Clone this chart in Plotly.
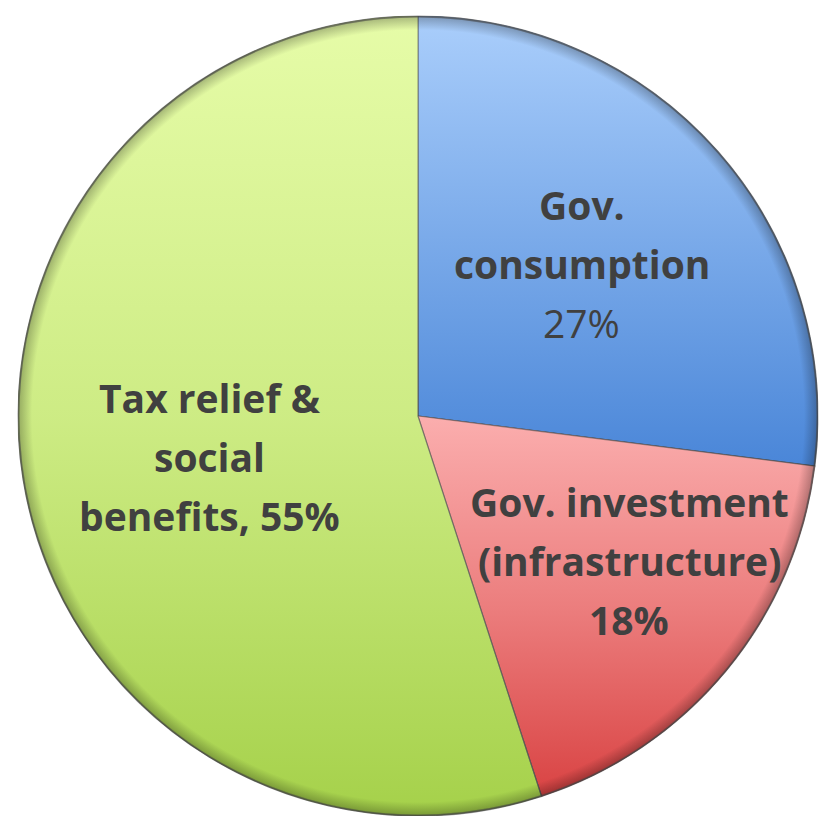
import base64
import math
import plotly.graph_objects as go

# ---- data ----
categories = ["Gov. consumption", "Gov. investment (infrastructure)", "Tax relief & social benefits"]
values = [27, 18, 55]
# label lines: (text, bold)
label_lines = [
    [("Gov.", True), ("consumption", True), ("27%", False)],
    [("Gov. investment", True), ("(infrastructure)", True), ("18%", True)],
    [("Tax relief &", True), ("social", True), ("benefits, 55%", True)],
]
base_colors = ["#4a86d8", "#d94343", "#a5d14a"]   # bottom (saturated) tone of each slice
top_colors = ["#aacefb", "#fbaeae", "#e6fca8"]    # top (light) tone of each slice
mid_opacity = [0.5, 0.55, 0.62]                   # sheen strength half-way down each slice

# ---- style / layout ----
W, H = 819, 816
R = 400
CX, CY = 418, 416  # pie centre, px from top-left
dom_x = [(CX - R) / W, (CX + R) / W]
dom_y = [(H - CY - R) / H, (H - CY + R) / H]
label_radius = [0.56, 0.64, 0.53]      # fraction of radius
label_angle_offset = [1.6, 5.3, 1.9]   # degrees
line_gap = 59                          # px between baselines
font_size = 39
text_color = "#404040"

fig = go.Figure(go.Pie(
    labels=categories,
    values=values,
    textinfo="none",
    sort=False,
    direction="clockwise",
    rotation=0,
    marker=dict(colors=base_colors, line=dict(color="rgba(80,80,80,0.55)", width=1)),
    domain=dict(x=dom_x, y=dom_y),
    showlegend=False,
    hoverinfo="label+percent",
))

# ---- per-slice gradient sheen (wedges derived from the values) ----
total = float(sum(values))
S = 2 * R
defs, paths = [], []
cum = 0.0
mids = []
for i, v in enumerate(values):
    a0 = 90 - 360 * cum / total
    a1 = 90 - 360 * (cum + v) / total
    mids.append(90 - 360 * (cum + v / 2) / total)
    cum += v
    x0 = R + R * math.cos(math.radians(a0)); y0 = R - R * math.sin(math.radians(a0))
    x1 = R + R * math.cos(math.radians(a1)); y1 = R - R * math.sin(math.radians(a1))
    large = 1 if (a0 - a1) > 180 else 0
    defs.append(
        f'<linearGradient id="g{i}" x1="0" y1="0" x2="0" y2="1">'
        f'<stop offset="0" stop-color="{top_colors[i]}" stop-opacity="1"/>'
        f'<stop offset="0.5" stop-color="{top_colors[i]}" stop-opacity="{mid_opacity[i]}"/>'
        f'<stop offset="1" stop-color="{top_colors[i]}" stop-opacity="0"/>'
        f'</linearGradient>'
    )
    paths.append(
        f'<path d="M{R},{R} L{x0:.2f},{y0:.2f} A{R},{R} 0 {large} 1 {x1:.2f},{y1:.2f} Z" '
        f'fill="url(#g{i})" stroke="rgba(80,80,80,0.5)" stroke-width="1.2"/>'
    )

svg = (
    f'<svg xmlns="http://www.w3.org/2000/svg" viewBox="0 0 {S} {S}" width="{S}" height="{S}">'
    '<defs>' + ''.join(defs) +
    '<radialGradient id="rim" cx="0.5" cy="0.5" r="0.5">'
    '<stop offset="0.965" stop-color="#000000" stop-opacity="0"/>'
    '<stop offset="1" stop-color="#000000" stop-opacity="0.28"/>'
    '</radialGradient>'
    '</defs>' + ''.join(paths) +
    f'<circle cx="{R}" cy="{R}" r="{R}" fill="url(#rim)"/>'
    f'<circle cx="{R}" cy="{R}" r="{R - 0.8}" fill="none" stroke="rgba(70,70,70,0.6)" stroke-width="1.4"/>'
    '</svg>'
)
src = "data:image/svg+xml;base64," + base64.b64encode(svg.encode()).decode()

fig.add_layout_image(dict(
    source=src, xref="paper", yref="paper",
    x=dom_x[0], y=dom_y[1], sizex=dom_x[1] - dom_x[0], sizey=dom_y[1] - dom_y[0],
    xanchor="left", yanchor="top", sizing="stretch", layer="above",
))

# ---- labels ----
for i, lines in enumerate(label_lines):
    ang = math.radians(mids[i] + label_angle_offset[i])
    px = CX + label_radius[i] * R * math.cos(ang)
    py = CY - label_radius[i] * R * math.sin(ang)
    n = len(lines)
    for j, (txt, bold) in enumerate(lines):
        ly = py + (j - (n - 1) / 2) * line_gap
        fig.add_annotation(
            x=px / W, y=1 - ly / H, xref="paper", yref="paper",
            text=f"<b>{txt}</b>" if bold else txt,
            showarrow=False, xanchor="center", yanchor="middle",
            font=dict(family="Open Sans", size=font_size, color=text_color),
        )

fig.update_layout(
    width=W, height=H,
    margin=dict(l=0, r=0, t=0, b=0),
    paper_bgcolor="white", plot_bgcolor="white",
)

fig.write_html("out.html")
